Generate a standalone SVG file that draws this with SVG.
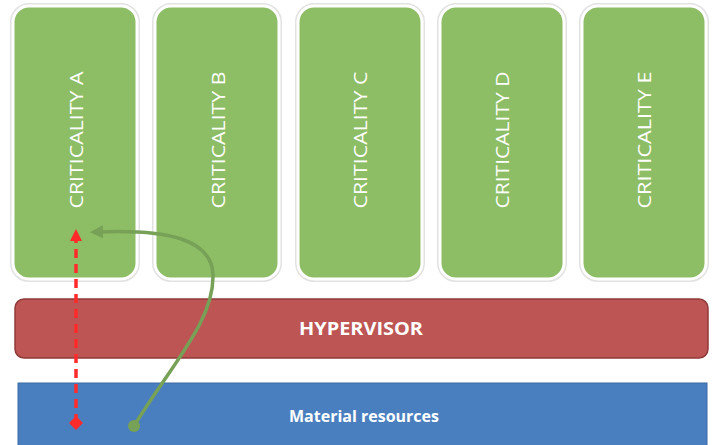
<svg xmlns="http://www.w3.org/2000/svg" width="715" height="445" viewBox="0 0 715 445">
<style>
.crit{fill:#8dbd65;stroke:#ffffff;stroke-width:3}
.critsh{fill:none;stroke:#d6d6d6;stroke-width:6;opacity:0.7}
.ct{font-family:"Open Sans","Liberation Sans",sans-serif;font-size:19px;fill:#ffffff;text-anchor:middle}
.bt{font-family:"Open Sans","Liberation Sans",sans-serif;font-weight:bold;fill:#ffffff;text-anchor:middle}
</style>
<defs>
<marker id="redHead" markerWidth="12" markerHeight="12" refX="5" refY="6" orient="auto" markerUnits="userSpaceOnUse" viewBox="0 0 12 12">
<path d="M0,0 L12,6 L0,12 Z" fill="#ff2b2b"/>
</marker>
<marker id="redDia" markerWidth="14" markerHeight="14" refX="7" refY="7" orient="auto" markerUnits="userSpaceOnUse" viewBox="0 0 14 14">
<path d="M0,7 L7,0 L14,7 L7,14 Z" fill="#ff2b2b"/>
</marker>
<marker id="greenHead" markerWidth="13" markerHeight="13" refX="6" refY="6.5" orient="auto" markerUnits="userSpaceOnUse" viewBox="0 0 13 13">
<path d="M0,0 L13,6.5 L0,13 Z" fill="#76a156"/>
</marker>
</defs>
<rect width="715" height="445" fill="#ffffff"/>
<g id="critA">
<rect class="critsh" x="13" y="6" width="124" height="273" rx="16"/>
<rect class="crit" x="13" y="6" width="124" height="273" rx="16"/>
<text class="ct" transform="translate(83,140) rotate(-90)" textLength="137" lengthAdjust="spacingAndGlyphs">CRITICALITY A</text>
</g>
<g id="critB">
<rect class="critsh" x="155" y="6" width="124" height="273" rx="16"/>
<rect class="crit" x="155" y="6" width="124" height="273" rx="16"/>
<text class="ct" transform="translate(225,140) rotate(-90)" textLength="137" lengthAdjust="spacingAndGlyphs">CRITICALITY B</text>
</g>
<g id="critC">
<rect class="critsh" x="298" y="6" width="124" height="273" rx="16"/>
<rect class="crit" x="298" y="6" width="124" height="273" rx="16"/>
<text class="ct" transform="translate(367,140) rotate(-90)" textLength="137" lengthAdjust="spacingAndGlyphs">CRITICALITY C</text>
</g>
<g id="critD">
<rect class="critsh" x="440" y="6" width="124" height="273" rx="16"/>
<rect class="crit" x="440" y="6" width="124" height="273" rx="16"/>
<text class="ct" transform="translate(509,140) rotate(-90)" textLength="137" lengthAdjust="spacingAndGlyphs">CRITICALITY D</text>
</g>
<g id="critE">
<rect class="critsh" x="582" y="6" width="124" height="273" rx="16"/>
<rect class="crit" x="582" y="6" width="124" height="273" rx="16"/>
<text class="ct" transform="translate(651,140) rotate(-90)" textLength="137" lengthAdjust="spacingAndGlyphs">CRITICALITY E</text>
</g>
<g id="hypervisor">
<rect x="15" y="299" width="693" height="59" rx="9" fill="#bd5554" stroke="#8e3b39" stroke-width="1.5"/>
<text class="bt" x="361" y="335" font-size="18" textLength="124" lengthAdjust="spacingAndGlyphs">HYPERVISOR</text>
</g>
<g id="material">
<rect x="18" y="383" width="689" height="70" fill="#4a7fbf" stroke="#3a6aa3" stroke-width="1"/>
<text class="bt" x="364" y="422" font-size="16" textLength="150" lengthAdjust="spacingAndGlyphs">Material resources</text>
</g>
<g id="connectors">
<path d="M76,423 L76,236" fill="none" stroke="#ff2b2b" stroke-width="3.5" stroke-dasharray="9,6" marker-start="url(#redDia)" marker-end="url(#redHead)"/>
<path d="M134,426 C175,360 214,320 213,275 C212,240 170,229 97,232" fill="none" stroke="#76a156" stroke-width="3.5" marker-end="url(#greenHead)"/>
<circle cx="134" cy="426" r="6" fill="#76a156"/>
</g>
</svg>
